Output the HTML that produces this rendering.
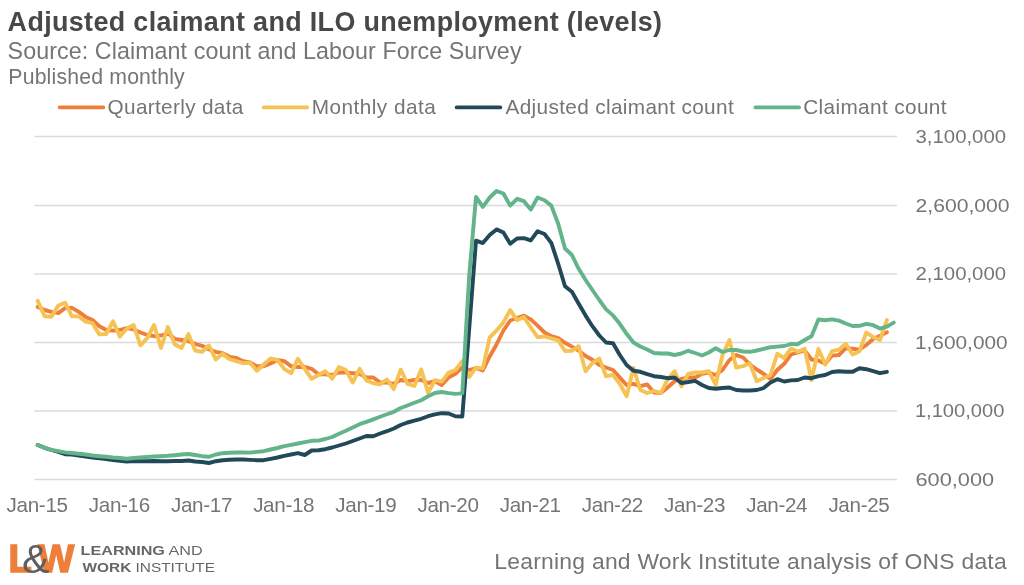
<!DOCTYPE html>
<html lang="en"><head><meta charset="utf-8"><title>Adjusted claimant and ILO unemployment (levels)</title>
<style>
html,body{margin:0;padding:0;background:#fff;}
body{width:1024px;height:585px;overflow:hidden;}
svg{display:block;font-family:"Liberation Sans",sans-serif;}
text{white-space:pre;}
</style></head><body>
<svg width="1024" height="585" viewBox="0 0 1024 585">
<line x1="34.3" x2="897" y1="136.5" y2="136.5" stroke="#DBDBDB" stroke-width="1.5"/>
<line x1="34.3" x2="897" y1="205.5" y2="205.5" stroke="#DBDBDB" stroke-width="1.5"/>
<line x1="34.3" x2="897" y1="274" y2="274" stroke="#DBDBDB" stroke-width="1.5"/>
<line x1="34.3" x2="897" y1="342.5" y2="342.5" stroke="#DBDBDB" stroke-width="1.5"/>
<line x1="34.3" x2="897" y1="411" y2="411" stroke="#DBDBDB" stroke-width="1.5"/>
<line x1="34.3" x2="897" y1="479.5" y2="479.5" stroke="#DBDBDB" stroke-width="1.5"/>
<path d="M37.7 306.9 L44.6 310.0 L51.4 311.9 L58.3 313.1 L65.1 308.1 L72.0 307.8 L78.8 311.9 L85.7 316.9 L92.5 320.0 L99.4 326.2 L106.2 330.0 L113.0 330.6 L119.9 330.0 L126.7 328.0 L133.6 329.4 L140.4 332.5 L147.3 335.0 L154.1 336.2 L161.0 335.5 L167.8 333.3 L174.7 338.8 L181.5 340.0 L188.4 341.2 L195.2 343.8 L202.1 345.8 L208.9 349.5 L215.8 351.8 L222.6 353.2 L229.5 356.8 L236.3 358.0 L243.2 361.2 L250.0 362.5 L256.9 366.2 L263.7 366.2 L270.6 363.4 L277.4 360.0 L284.2 361.2 L291.1 366.2 L297.9 367.0 L304.8 367.0 L311.6 368.8 L318.5 374.2 L325.3 374.2 L332.2 375.0 L339.0 372.5 L345.9 372.5 L352.7 373.2 L359.6 373.8 L366.4 377.5 L373.3 377.5 L380.1 382.5 L387.0 382.5 L393.8 383.8 L400.7 380.0 L407.5 381.2 L414.4 380.0 L421.2 380.0 L428.1 383.0 L434.9 381.2 L441.8 385.0 L448.6 377.5 L455.4 373.8 L462.3 367.5 L469.1 370.0 L476.0 368.0 L482.8 370.5 L489.7 356.5 L496.5 344.5 L503.4 330.5 L510.2 320.5 L517.1 318.0 L523.9 315.7 L530.8 319.4 L537.6 325.6 L544.5 332.5 L551.3 336.2 L558.2 338.1 L565.0 342.8 L571.9 346.6 L578.7 350.5 L585.6 356.0 L592.4 359.7 L599.3 365.0 L606.1 367.5 L613.0 370.0 L619.8 377.5 L626.6 385.0 L633.5 383.8 L640.3 386.2 L647.2 384.5 L654.0 392.5 L660.9 393.0 L667.7 387.5 L674.6 381.2 L681.4 378.8 L688.3 377.5 L695.1 377.5 L702.0 373.8 L708.8 372.5 L715.7 375.0 L722.5 370.0 L729.4 360.0 L736.2 355.0 L743.1 357.5 L749.9 364.5 L756.8 369.5 L763.6 373.8 L770.5 378.8 L777.3 370.0 L784.2 363.8 L791.0 354.5 L797.8 352.5 L804.7 350.5 L811.5 359.5 L818.4 360.5 L825.2 363.8 L832.1 355.6 L838.9 355.0 L845.8 348.2 L852.6 348.8 L859.5 349.7 L866.3 345.0 L873.2 339.0 L880.0 335.7 L886.9 332.3" fill="none" stroke="#EE7F3B" stroke-width="3.9" stroke-linejoin="round" stroke-linecap="round"/>
<path d="M37.7 300.9 L44.6 316.2 L51.4 316.8 L58.3 305.5 L65.1 302.7 L72.0 316.3 L78.8 316.4 L85.7 321.6 L92.5 323.2 L99.4 334.4 L106.2 334.0 L113.0 321.3 L119.9 336.6 L126.7 328.7 L133.6 325.0 L140.4 345.3 L147.3 338.0 L154.1 325.0 L161.0 348.0 L167.8 327.0 L174.7 344.2 L181.5 348.0 L188.4 334.0 L195.2 350.5 L202.1 351.8 L208.9 345.5 L215.8 359.5 L222.6 353.8 L229.5 359.2 L236.3 361.2 L243.2 363.2 L250.0 362.8 L256.9 370.8 L263.7 364.5 L270.6 358.4 L277.4 360.0 L284.2 368.8 L291.1 373.2 L297.9 358.8 L304.8 368.8 L311.6 378.8 L318.5 375.0 L325.3 371.2 L332.2 378.8 L339.0 367.0 L345.9 370.0 L352.7 382.5 L359.6 368.8 L366.4 380.5 L373.3 383.2 L380.1 384.2 L387.0 379.5 L393.8 389.2 L400.7 369.7 L407.5 383.8 L414.4 386.0 L421.2 369.4 L428.1 392.8 L434.9 380.2 L441.8 381.6 L448.6 372.6 L455.4 370.2 L462.3 361.2 L469.1 377.0 L476.0 367.6 L482.8 368.4 L489.7 337.4 L496.5 330.6 L503.4 322.4 L510.2 310.1 L517.1 320.2 L523.9 317.0 L530.8 327.5 L537.6 337.2 L544.5 336.4 L551.3 338.4 L558.2 340.3 L565.0 351.0 L571.9 350.8 L578.7 346.2 L585.6 371.2 L592.4 363.0 L599.3 358.6 L606.1 376.2 L613.0 375.0 L619.8 383.8 L626.6 396.2 L633.5 368.0 L640.3 390.0 L647.2 393.0 L654.0 390.8 L660.9 393.0 L667.7 379.2 L674.6 371.2 L681.4 386.2 L688.3 373.8 L695.1 372.5 L702.0 372.5 L708.8 371.2 L715.7 385.0 L722.5 355.0 L729.4 340.0 L736.2 367.5 L743.1 366.2 L749.9 363.2 L756.8 381.2 L763.6 378.0 L770.5 375.0 L777.3 353.8 L784.2 358.0 L791.0 348.5 L797.8 351.8 L804.7 348.8 L811.5 380.0 L818.4 348.8 L825.2 364.5 L832.1 351.2 L838.9 349.7 L845.8 343.8 L852.6 354.5 L859.5 351.2 L866.3 332.6 L873.2 337.2 L880.0 340.0 L886.9 320.0" fill="none" stroke="#F6C254" stroke-width="3.9" stroke-linejoin="round" stroke-linecap="round"/>
<path d="M37.7 445.0 L44.6 447.8 L51.4 450.0 L58.3 452.0 L65.1 454.2 L72.0 454.5 L78.8 455.5 L85.7 456.5 L92.5 457.5 L99.4 458.2 L106.2 459.0 L113.0 460.0 L119.9 460.8 L126.7 461.5 L133.6 461.0 L140.4 461.2 L147.3 461.2 L154.1 461.0 L161.0 461.2 L167.8 461.2 L174.7 461.0 L181.5 461.0 L188.4 460.5 L195.2 461.5 L202.1 462.0 L208.9 463.0 L215.8 461.2 L222.6 460.2 L229.5 459.8 L236.3 459.5 L243.2 459.5 L250.0 459.9 L256.9 460.2 L263.7 460.2 L270.6 458.8 L277.4 457.5 L284.2 455.8 L291.1 454.5 L297.9 453.2 L304.8 455.0 L311.6 450.5 L318.5 450.2 L325.3 449.2 L332.2 447.5 L339.0 445.5 L345.9 443.5 L352.7 441.0 L359.6 438.5 L366.4 436.0 L373.3 436.2 L380.1 433.5 L387.0 431.2 L393.8 428.5 L400.7 425.0 L407.5 422.5 L414.4 420.6 L421.2 418.8 L428.1 416.2 L434.9 414.4 L441.8 413.2 L448.6 413.5 L455.4 416.2 L462.3 416.5 L469.1 330.0 L476.0 240.6 L482.8 243.1 L489.7 235.0 L496.5 229.4 L503.4 232.5 L510.2 243.8 L517.1 238.5 L523.9 238.1 L530.8 240.4 L537.6 231.2 L544.5 234.0 L551.3 242.9 L558.2 263.8 L565.0 286.2 L571.9 291.8 L578.7 303.8 L585.6 315.6 L592.4 326.2 L599.3 335.5 L606.1 342.5 L613.0 343.2 L619.8 355.0 L626.6 365.0 L633.5 370.8 L640.3 371.8 L647.2 374.2 L654.0 376.2 L660.9 377.0 L667.7 378.2 L674.6 377.5 L681.4 383.0 L688.3 382.0 L695.1 380.8 L702.0 385.0 L708.8 388.0 L715.7 388.8 L722.5 388.0 L729.4 387.5 L736.2 390.0 L743.1 390.5 L749.9 390.5 L756.8 390.0 L763.6 388.0 L770.5 382.5 L777.3 379.2 L784.2 381.5 L791.0 380.4 L797.8 380.0 L804.7 377.5 L811.5 378.2 L818.4 376.2 L825.2 375.0 L832.1 372.0 L838.9 371.2 L845.8 371.8 L852.6 371.8 L859.5 368.2 L866.3 369.2 L873.2 371.2 L880.0 373.2 L886.9 371.8" fill="none" stroke="#22495A" stroke-width="3.9" stroke-linejoin="round" stroke-linecap="round"/>
<path d="M37.7 445.0 L44.6 447.8 L51.4 449.8 L58.3 451.1 L65.1 452.4 L72.0 453.0 L78.8 453.7 L85.7 454.5 L92.5 455.5 L99.4 456.2 L106.2 456.8 L113.0 457.5 L119.9 458.0 L126.7 458.8 L133.6 458.0 L140.4 457.5 L147.3 457.0 L154.1 456.5 L161.0 456.2 L167.8 455.8 L174.7 455.2 L181.5 454.5 L188.4 454.0 L195.2 455.0 L202.1 456.2 L208.9 456.8 L215.8 454.5 L222.6 453.2 L229.5 452.8 L236.3 452.5 L243.2 452.5 L250.0 452.6 L256.9 451.9 L263.7 451.2 L270.6 449.5 L277.4 448.0 L284.2 446.2 L291.1 444.8 L297.9 443.5 L304.8 442.2 L311.6 440.8 L318.5 440.6 L325.3 439.0 L332.2 437.0 L339.0 433.8 L345.9 430.8 L352.7 427.5 L359.6 424.2 L366.4 421.8 L373.3 419.4 L380.1 416.8 L387.0 414.2 L393.8 411.8 L400.7 408.0 L407.5 405.5 L414.4 402.8 L421.2 400.2 L428.1 396.2 L434.9 393.0 L441.8 392.0 L448.6 393.1 L455.4 393.9 L462.3 393.4 L469.1 277.0 L476.0 196.9 L482.8 206.9 L489.7 197.5 L496.5 191.0 L503.4 193.5 L510.2 205.6 L517.1 198.8 L523.9 201.2 L530.8 209.6 L537.6 197.5 L544.5 200.2 L551.3 205.6 L558.2 223.8 L565.0 248.5 L571.9 255.0 L578.7 268.8 L585.6 280.0 L592.4 290.0 L599.3 300.0 L606.1 309.4 L613.0 315.4 L619.8 323.8 L626.6 333.8 L633.5 342.5 L640.3 346.5 L647.2 349.5 L654.0 353.0 L660.9 353.5 L667.7 353.5 L674.6 355.0 L681.4 353.5 L688.3 350.8 L695.1 353.0 L702.0 355.5 L708.8 352.5 L715.7 348.2 L722.5 352.0 L729.4 350.0 L736.2 350.0 L743.1 351.5 L749.9 351.8 L756.8 350.5 L763.6 348.8 L770.5 347.2 L777.3 346.6 L784.2 346.0 L791.0 344.0 L797.8 344.2 L804.7 340.0 L811.5 336.2 L818.4 319.5 L825.2 320.2 L832.1 319.4 L838.9 320.6 L845.8 323.5 L852.6 326.0 L859.5 325.9 L866.3 323.9 L873.2 325.2 L880.0 328.6 L886.9 326.6 L893.7 322.6" fill="none" stroke="#63B38B" stroke-width="3.9" stroke-linejoin="round" stroke-linecap="round"/>
<text x="7.60" y="31.00" font-size="26.89" font-weight="700" fill="#484848" text-anchor="start" textLength="654.4" lengthAdjust="spacing">Adjusted claimant and ILO unemployment (levels)</text>
<text x="7.60" y="58.75" font-size="23.26" font-weight="400" fill="#757575" text-anchor="start" textLength="513.9" lengthAdjust="spacing">Source: Claimant count and Labour Force Survey</text>
<text x="8.30" y="83.50" font-size="21.22" font-weight="400" fill="#757575" text-anchor="start" textLength="176.4" lengthAdjust="spacing">Published monthly</text>
<line x1="59.7" x2="103.3" y1="107.4" y2="107.4" stroke="#EE7F3B" stroke-width="3.8" stroke-linecap="round"/>
<text x="107.60" y="113.75" font-size="20.78" font-weight="400" fill="#757575" text-anchor="start" textLength="135.7" lengthAdjust="spacing">Quarterly data</text>
<line x1="263.7" x2="307.05" y1="107.4" y2="107.4" stroke="#F6C254" stroke-width="3.8" stroke-linecap="round"/>
<text x="311.70" y="113.75" font-size="20.78" font-weight="400" fill="#757575" text-anchor="start" textLength="124.1" lengthAdjust="spacing">Monthly data</text>
<line x1="456.7" x2="500.3" y1="107.4" y2="107.4" stroke="#22495A" stroke-width="3.8" stroke-linecap="round"/>
<text x="505.50" y="113.75" font-size="20.78" font-weight="400" fill="#757575" text-anchor="start" textLength="228.2" lengthAdjust="spacing">Adjusted claimant count</text>
<line x1="755.45" x2="799.05" y1="107.4" y2="107.4" stroke="#63B38B" stroke-width="3.8" stroke-linecap="round"/>
<text x="803.20" y="113.75" font-size="20.78" font-weight="400" fill="#757575" text-anchor="start" textLength="143.3" lengthAdjust="spacing">Claimant count</text>
<text x="915.50" y="142.80" font-size="17.50" font-weight="400" fill="#757575" text-anchor="start" textLength="90.6" lengthAdjust="spacingAndGlyphs">3,100,000</text>
<text x="915.50" y="211.80" font-size="17.50" font-weight="400" fill="#757575" text-anchor="start" textLength="94.1" lengthAdjust="spacingAndGlyphs">2,600,000</text>
<text x="915.50" y="280.30" font-size="17.50" font-weight="400" fill="#757575" text-anchor="start" textLength="90.6" lengthAdjust="spacingAndGlyphs">2,100,000</text>
<text x="914.90" y="348.80" font-size="17.50" font-weight="400" fill="#757575" text-anchor="start" textLength="92.8" lengthAdjust="spacingAndGlyphs">1,600,000</text>
<text x="914.90" y="417.30" font-size="17.50" font-weight="400" fill="#757575" text-anchor="start" textLength="89.5" lengthAdjust="spacingAndGlyphs">1,100,000</text>
<text x="915.50" y="485.80" font-size="17.50" font-weight="400" fill="#757575" text-anchor="start" textLength="78.7" lengthAdjust="spacingAndGlyphs">600,000</text>
<text x="6.62" y="512.00" font-size="20.64" font-weight="400" fill="#757575" text-anchor="start" textLength="61.4" lengthAdjust="spacing">Jan-15</text>
<text x="88.80" y="512.00" font-size="20.64" font-weight="400" fill="#757575" text-anchor="start" textLength="61.4" lengthAdjust="spacing">Jan-16</text>
<text x="170.97" y="512.00" font-size="20.64" font-weight="400" fill="#757575" text-anchor="start" textLength="61.4" lengthAdjust="spacing">Jan-17</text>
<text x="253.15" y="512.00" font-size="20.64" font-weight="400" fill="#757575" text-anchor="start" textLength="61.4" lengthAdjust="spacing">Jan-18</text>
<text x="335.32" y="512.00" font-size="20.64" font-weight="400" fill="#757575" text-anchor="start" textLength="61.4" lengthAdjust="spacing">Jan-19</text>
<text x="417.50" y="512.00" font-size="20.64" font-weight="400" fill="#757575" text-anchor="start" textLength="61.4" lengthAdjust="spacing">Jan-20</text>
<text x="499.68" y="512.00" font-size="20.64" font-weight="400" fill="#757575" text-anchor="start" textLength="61.4" lengthAdjust="spacing">Jan-21</text>
<text x="581.85" y="512.00" font-size="20.64" font-weight="400" fill="#757575" text-anchor="start" textLength="61.4" lengthAdjust="spacing">Jan-22</text>
<text x="664.03" y="512.00" font-size="20.64" font-weight="400" fill="#757575" text-anchor="start" textLength="61.4" lengthAdjust="spacing">Jan-23</text>
<text x="746.20" y="512.00" font-size="20.64" font-weight="400" fill="#757575" text-anchor="start" textLength="61.4" lengthAdjust="spacing">Jan-24</text>
<text x="828.38" y="512.00" font-size="20.64" font-weight="400" fill="#757575" text-anchor="start" textLength="61.4" lengthAdjust="spacing">Jan-25</text>
<text x="494.20" y="568.75" font-size="22.89" font-weight="400" fill="#757575" text-anchor="start" textLength="512.5" lengthAdjust="spacing">Learning and Work Institute analysis of ONS data</text>
<text x="8.4" y="571.95" font-size="39.5" font-weight="700" fill="#EE7F3B" stroke="#EE7F3B" stroke-width="1.6" stroke-linejoin="miter" textLength="23.3" lengthAdjust="spacingAndGlyphs">L</text>
<text x="38.3" y="571.95" font-size="39.5" font-weight="700" fill="#EE7F3B" stroke="#EE7F3B" stroke-width="1.6" stroke-linejoin="miter" textLength="36" lengthAdjust="spacingAndGlyphs">W</text>
<text x="22" y="572.6" font-size="40" font-weight="400" fill="#5e5e5e" textLength="27.5" lengthAdjust="spacingAndGlyphs">&amp;</text>
<text x="80.6" y="555.3" font-size="13.7" fill="#666666" textLength="122" lengthAdjust="spacingAndGlyphs"><tspan font-weight="700">LEARNING</tspan> AND</text>
<text x="82.6" y="572.4" font-size="13.7" fill="#666666" textLength="132.4" lengthAdjust="spacingAndGlyphs"><tspan font-weight="700">WORK</tspan> INSTITUTE</text>
</svg>
</body></html>
